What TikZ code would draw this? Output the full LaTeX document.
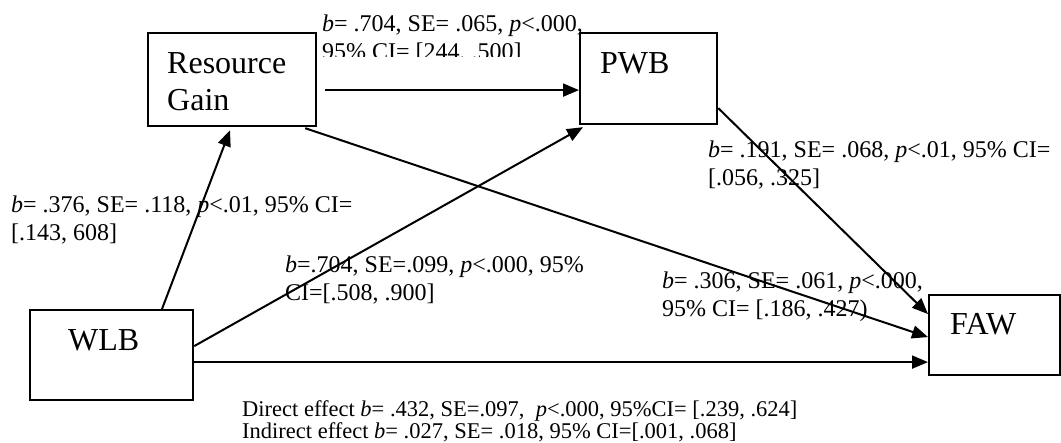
\documentclass[tikz,border=0pt]{standalone}
\usepackage{fontspec}
\setmainfont{Liberation Serif}
\usetikzlibrary{arrows.meta}
\begin{document}
\begin{tikzpicture}[x=1pt,y=-1pt,
  box/.style={draw, line width=2.2pt, rectangle, inner sep=0pt, anchor=north west},
  boxtext/.style={inner sep=0pt, anchor=north west, align=left, font=\fontsize{32}{37}\selectfont},
  coef/.style={inner sep=0pt, anchor=north west, align=left, font=\fontsize{24}{28}\selectfont},
  effect/.style={inner sep=0pt, anchor=north west, align=left, font=\fontsize{22.5}{20.5}\selectfont},
  link/.style={line width=2pt, -{Triangle[length=16pt,width=13pt]}}
]
\useasboundingbox (0,0) rectangle (1061,443);

% variable boxes
\node[box, minimum width=168pt, minimum height=93pt] (rg)  at (147,32)  {};
\node[box, minimum width=137pt, minimum height=91pt] (pwb) at (579,32)  {};
\node[box, minimum width=163pt, minimum height=90pt] (wlb) at (29,309)  {};
\node[box, minimum width=131pt, minimum height=80pt] (faw) at (928,294) {};

% box captions
\node[boxtext] (rgtext)  at (167,52)  {Resource\\Gain};
\node[boxtext] (pwbtext) at (600,52)  {PWB};
\node[boxtext] (wlbtext) at (68,329)  {WLB};
\node[boxtext] (fawtext) at (950,313) {FAW};

% path coefficients
\begin{scope}
  \clip (300,0) rectangle (620,57);
  \node[coef] (cRP) at (322,14.6) {\textit{b}= .704, SE= .065, \textit{p}<.000,\\95\% CI= [244, .500]};
\end{scope}
\node[coef] (cWR) at (11,195.6)  {\textit{b}= .376, SE= .118, \textit{p}<.01, 95\% CI=\\{}[.143, 608]};
\node[coef] (cWP) at (285,255.6) {\textit{b}=.704, SE=.099, \textit{p}<.000, 95\%\\CI=[.508, .900]};
\node[coef] (cPF) at (708,140.6) {\textit{b}= .191, SE= .068, \textit{p}<.01, 95\% CI=\\{}[.056, .325]};
\node[coef] (cRF) at (662,271.6) {\textit{b}= .306, SE= .061, \textit{p}<.000,\\95\% CI= [.186, .427)};
\node[effect] (eff) at (242,400.5) {Direct effect \textit{b}= .432, SE=.097,\ \ \textit{p}<.000, 95\%CI= [.239, .624]\\Indirect effect \textit{b}= .027, SE= .018, 95\% CI=[.001, .068]};

% connectors
\coordinate (rgout) at ([xshift=8pt,yshift=-10.5pt]rg.east);
\draw[link] (rgout) -- (rgout -| pwb.west);
\draw[link] ([xshift=133pt]wlb.north west) -- ([xshift=83pt,yshift=-3pt]rg.south west);
\draw[link] ([yshift=9pt]wlb.east) -- ([xshift=4pt,yshift=-2pt]pwb.south west);
\draw[link] ([xshift=-12pt,yshift=-1pt]rg.south east) -- ([yshift=-2pt]faw.west);
\draw[link] ([yshift=-29.5pt]pwb.east) -- ([yshift=21pt]faw.west);
\coordinate (wlbout) at ([yshift=-7pt]wlb.east);
\draw[link] (wlbout) -- (wlbout -| faw.west);
\end{tikzpicture}
\end{document}
